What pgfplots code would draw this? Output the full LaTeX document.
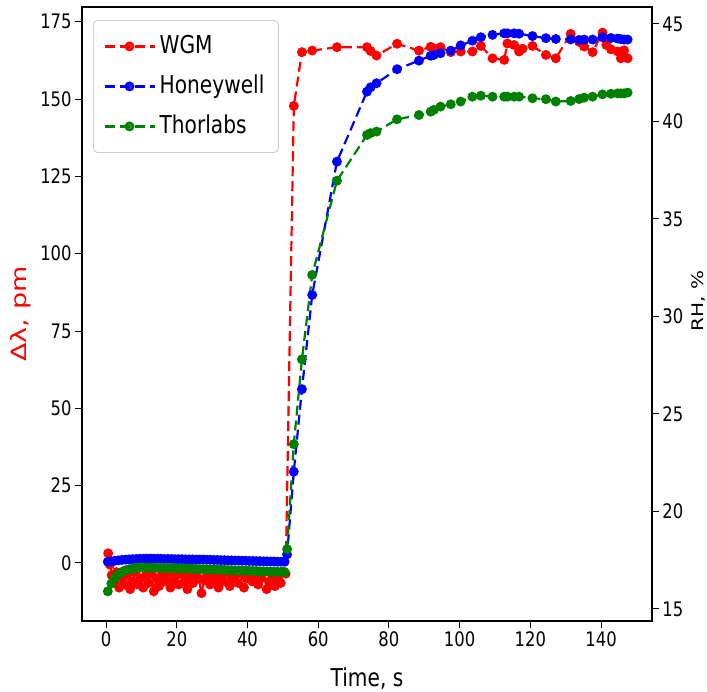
\documentclass[border=0pt]{standalone}
\usepackage{fontspec}
\setmainfont{DejaVu Sans}[FakeStretch=0.82]
\newfontfamily\yfont{DejaVu Sans}
\usepackage{graphicx}
\usepackage{pgfplots}
\pgfplotsset{compat=1.18}
\definecolor{mplgreen}{RGB}{0,128,0}

\pgfplotsset{
  base/.style={
    scale only axis, width=285pt, height=307pt,
    xmin=-6.8, xmax=154.4,
    tick align=outside, major tick length=3.5pt,
    tick style={black, line width=0.5pt},
    axis line style={line width=0.6pt},
    ticklabel style={font=\fontsize{10}{11}\selectfont, inner sep=1.5pt},
    /pgf/number format/assume math mode=true,
    every axis plot/.append style={line width=1.1pt, dash pattern=on 5pt off 2.5pt,
      mark=*, mark size=1.9pt, mark options={solid}},
  },
  legline/.style={legend image code/.code={
    \draw[mark repeat=2, mark phase=2] plot coordinates {(0pt,0pt) (12.5pt,0pt) (25pt,0pt)};}},
}

\begin{document}
\begin{tikzpicture}
\begin{axis}[base, name=main,
  ymin=-18.8, ymax=179.8,
  xtick={0,20,...,140}, ytick={0,25,...,175},
  xtick pos=left, ytick pos=left,
  xlabel={Time, s},
  xlabel style={at={([yshift=-32.5pt]axis description cs:0.5,0)}, anchor=base,
    font=\fontsize{12.3}{14}\selectfont},
  ylabel={\scalebox{1}[0.78]{\yfont\fontsize{13.5}{15}\selectfont Δλ, pm}},
  ylabel style={at={([xshift=-27.5pt]axis description cs:0,0.5)}, anchor=base,
    rotate=0, text=red, inner sep=0pt},
]
% WGM
\addplot[red] coordinates {
(0.6,3.1)(1.1,-0.6)(1.6,-4)(2.2,-6)(3,-3)(3.7,-8)(4.5,-5)(5.2,-7)(6,-4)(6.8,-8.5)
(7.5,-6)(8.3,-3)(9,-7)(9.8,-5)(10.5,-8)(11.3,-4)(12,-6.5)(12.8,-3.5)(13.5,-9.2)(14.3,-5)
(15,-7.5)(15.8,-4)(16.6,-6)(17.4,-3)(18.2,-8)(19,-5.5)(19.8,-4)(20.6,-7)(21.4,-3.5)(22.2,-6)
(23,-8.5)(23.8,-4.5)(24.6,-6.5)(25.4,-3)(26.2,-5)(27,-9.8)(27.8,-5.5)(28.6,-4)(29.4,-7)(30.2,-3.5)
(31,-6)(31.8,-8)(32.6,-4.5)(33.4,-6)(34.2,-3)(35,-7.5)(35.8,-5)(36.6,-4)(37.4,-6.5)(38.2,-3.5)
(39,-8)(39.8,-5)(40.6,-4)(41.4,-6)(42.2,-3.5)(43,-7)(43.8,-5)(44.6,-3)(45.4,-8.5)(46.2,-6)
(47,-4)(47.8,-7.5)(48.6,-5)(49.4,-6.5)(50.2,-3)(50.8,-3.5)
(53.1,147.8)(55.4,165.2)(58.3,165.7)(65.3,166.8)(73.8,166.8)(74.8,165.6)(76.5,164.1)
(82.3,167.9)(88.5,165.7)(91.8,166.9)(92.7,166.4)(94.6,166.8)(97.5,165.2)(100.3,165.4)
(103.6,165.4)(106,167.2)(109.3,163.2)(112.6,162.7)(113.5,168)(115.4,167.5)(116.8,165.4)
(117.8,166.3)(120.6,167.2)(124.4,164.3)(127.2,163.2)(131.4,171.1)(133.8,168.5)(135.2,167)
(137.6,165.2)(140.4,171.5)(141.5,167.5)(142.8,166.1)(144.7,165.4)(145.6,163.2)(146.5,165.8)
(147.5,163.2)
};
\end{axis}

\begin{axis}[base,
  ymin=14.38, ymax=45.87,
  axis x line=none, axis y line*=right,
  ytick={15,20,...,45}, ytick pos=right,
  ylabel={\scalebox{1}[0.8]{\yfont\fontsize{10}{12}\selectfont RH, \%}},
  ylabel style={at={([xshift=25.5pt]axis description cs:1,0.521)}, anchor=base,
    rotate=0, inner sep=0pt},
  legend style={at={(0.0193,0.9788)}, anchor=north west,
    draw=black!20, rounded corners=2pt, fill=white, fill opacity=0.8, text opacity=1,
    font=\fontsize{12.3}{14}\selectfont, inner sep=5pt, row sep=4pt,
    nodes={inner sep=2pt, text height=9.5pt, text depth=2.5pt}},
  legend cell align=left,
]
\addlegendimage{red, legline}
\addlegendentry{WGM}
% Honeywell
\addplot[blue, legline] coordinates {
(0.5,17.42)(1.5,17.44)(2.5,17.47)(3.5,17.49)(4.5,17.51)(5.5,17.53)(6.5,17.54)(7.5,17.55)
(8.5,17.56)(9.5,17.57)(10.5,17.57)(11.5,17.58)(12.5,17.58)(13.5,17.57)(14.5,17.57)(15.5,17.57)
(16.5,17.56)(17.5,17.56)(18.5,17.56)(19.5,17.55)(20.5,17.55)(21.5,17.55)(22.5,17.54)(23.5,17.54)
(24.5,17.54)(25.5,17.53)(26.5,17.53)(27.5,17.53)(28.5,17.52)(29.5,17.52)(30.5,17.51)(31.5,17.51)
(32.5,17.5)(33.5,17.5)(34.5,17.49)(35.5,17.49)(36.5,17.48)(37.5,17.48)(38.5,17.47)(39.5,17.47)
(40.5,17.46)(41.5,17.46)(42.5,17.45)(43.5,17.45)(44.5,17.44)(45.5,17.44)(46.5,17.43)(47.5,17.43)
(48.5,17.42)(49.5,17.42)(50.5,17.42)
(51.2,17.8)(53.1,22.04)(55.4,26.27)(58.3,31.1)(65.3,37.94)(73.8,41.53)(74.8,41.75)(76.5,41.96)
(82.3,42.68)(88.5,43.12)(91.8,43.37)(92.7,43.41)(94.6,43.5)(97.5,43.63)(100.3,43.9)(103.6,44.14)
(106,44.32)(109.3,44.44)(112.6,44.52)(113.5,44.52)(115.4,44.52)(116.8,44.5)(120.6,44.38)
(124.4,44.27)(127.2,44.23)(131.4,44.21)(133.8,44.18)(135.2,44.2)(137.6,44.2)(140.4,44.32)
(142.8,44.28)(144.7,44.25)(145.6,44.22)(146.5,44.2)(147.5,44.2)
};
\addlegendentry{Honeywell}
% Thorlabs
\addplot[mplgreen, legline] coordinates {
(0.5,15.9)(1.5,16.3)(2.5,16.6)(3.5,16.78)(4.5,16.9)(5.5,16.98)(6.5,17.03)(7.5,17.07)
(8.5,17.09)(9.5,17.11)(10.5,17.12)(11.5,17.12)(12.5,17.12)(13.5,17.11)(14.5,17.11)(15.5,17.1)
(16.5,17.1)(17.5,17.09)(18.5,17.09)(19.5,17.08)(20.5,17.08)(21.5,17.07)(22.5,17.07)(23.5,17.06)
(24.5,17.06)(25.5,17.05)(26.5,17.04)(27.5,17.04)(28.5,17.03)(29.5,17.03)(30.5,17.02)(31.5,17.01)
(32.5,17.01)(33.5,17.0)(34.5,16.99)(35.5,16.99)(36.5,16.98)(37.5,16.97)(38.5,16.97)(39.5,16.96)
(40.5,16.95)(41.5,16.95)(42.5,16.94)(43.5,16.93)(44.5,16.93)(45.5,16.92)(46.5,16.91)(47.5,16.91)
(48.5,16.9)(49.5,16.9)(50.5,16.89)
(51.2,18.06)(53.1,23.45)(55.4,27.8)(58.3,32.13)(65.3,36.96)(73.8,39.31)(74.8,39.4)(76.5,39.48)
(82.3,40.11)(88.5,40.33)(91.8,40.5)(92.7,40.59)(94.6,40.76)(97.5,40.88)(100.3,41.02)(103.6,41.27)
(106,41.32)(109.3,41.27)(112.6,41.27)(113.5,41.27)(115.4,41.27)(116.8,41.27)(120.6,41.19)
(124.4,41.14)(127.2,41.02)(131.4,41.05)(133.8,41.15)(135.2,41.22)(137.6,41.27)(140.4,41.39)
(142.8,41.42)(144.7,41.44)(145.6,41.44)(146.5,41.44)(147.5,41.48)
};
\addlegendentry{Thorlabs}
\end{axis}
\pgfresetboundingbox
\path[use as bounding box] ([xshift=-41pt,yshift=-35pt]main.south west)
  rectangle ([xshift=27.5pt,yshift=3.5pt]main.north east);
\end{tikzpicture}
\end{document}
